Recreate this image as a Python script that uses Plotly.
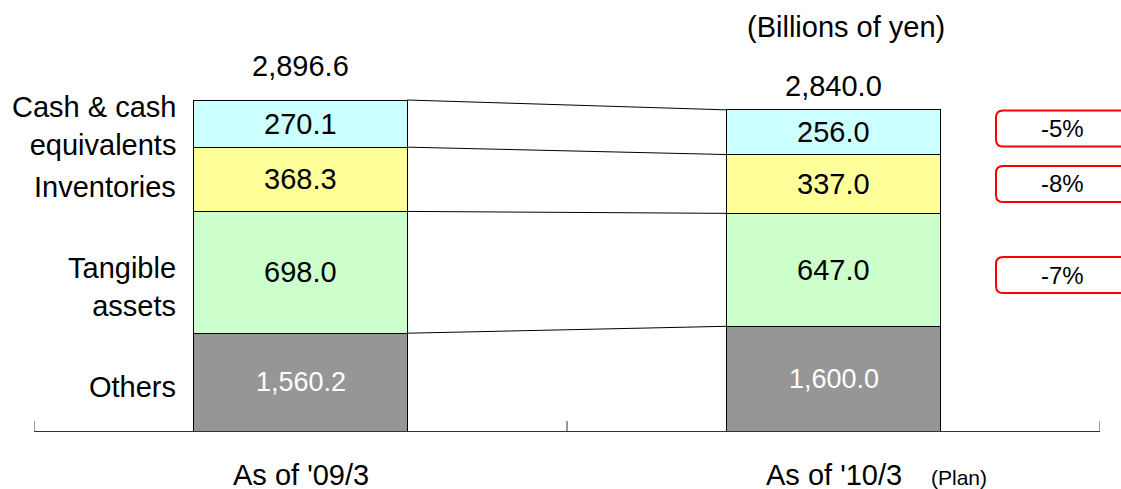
import plotly.graph_objects as go

# ---------------- data ----------------
periods = ["As of '09/3", "As of '10/3"]
period_note = ["", "(Plan)"]
segments = ["Others", "Tangible\nassets", "Inventories", "Cash & cash\nequivalents"]
others = [1560.2, 1600.0]
tangible = [698.0, 647.0]
inventories = [368.3, 337.0]
cash = [270.1, 256.0]
change_labels = ["-5%", "-8%", "-7%"]   # cash, inventories, tangible
unit_label = "(Billions of yen)"

# ---------------- layout constants ----------------
W, H = 1121, 489
ML, MR, MT, MB = 34, 21, 20, 58
PW, PH = W - ML - MR, H - MT - MB
Y_FLOOR = 1000.0                # axis is cut: starts at 1,000
PX_PER_UNIT = 0.17452
Y_TOP = Y_FLOOR + PH / PX_PER_UNIT
BAR_W = 0.40
FONT = "Liberation Sans, Arial, sans-serif"
FS = 29
colors = ["#969696", "#CCFFCC", "#FFFF99", "#CCFFFF"]
text_colors = ["#FFFFFF", "#000000", "#000000", "#000000"]
TICK_LEN = 10


def xp(px):
    return (px - ML) / PW


def yp(py):
    return (H - MB - py) / PH


series = [others, tangible, inventories, cash]
xs = list(range(len(periods)))

fig = go.Figure()
for name, vals, col in zip(segments, series, colors):
    fig.add_trace(go.Bar(
        x=xs, y=vals, width=BAR_W, name=name.replace("\n", " "),
        marker=dict(color=col, line=dict(color="#000000", width=1)),
        hoverinfo="skip",
    ))

# cumulative boundaries
cum = []
run = [0.0] * len(periods)
for vals in series:
    run = [r + v for r, v in zip(run, vals)]
    cum.append(run[:])

# connector lines between bar 1 right edge and bar 2 left edge
for level in cum:
    fig.add_trace(go.Scatter(
        x=[xs[0] + BAR_W / 2, xs[1] - BAR_W / 2], y=[level[0], level[1]],
        mode="lines", line=dict(color="#000000", width=1),
        hoverinfo="skip", showlegend=False,
    ))

annotations = []

# value labels centred in the visible part of each segment
for i, vals in enumerate(series):
    for j, x in enumerate(xs):
        lo = Y_FLOOR if i == 0 else cum[i - 1][j]
        mid = (lo + cum[i][j]) / 2
        annotations.append(dict(
            x=x, y=mid, xref="x", yref="y", yanchor="middle",
            text=f"{vals[j]:,.1f}", showarrow=False,
            font=dict(size=FS if i else 27, color=text_colors[i], family=FONT)))

# segment labels left of first bar
label_yshift = [-5, -15, -8, -2]
for i, name in enumerate(segments):
    lo = Y_FLOOR if i == 0 else cum[i - 1][0]
    mid = (lo + cum[i][0]) / 2
    annotations.append(dict(
        x=xs[0] - BAR_W / 2, y=mid, xref="x", yref="y", xanchor="right",
        yanchor="middle", xshift=-16, yshift=label_yshift[i], align="right",
        text=name.replace("\n", "<br>"), showarrow=False,
        font=dict(size=FS, color="#000000", family=FONT)))

# totals above bars
total_yshift = [34.5, 24]
for i, x in enumerate(xs):
    annotations.append(dict(
        x=x, y=cum[-1][i], xref="x", yref="y", yanchor="middle",
        yshift=total_yshift[i], text=f"{cum[-1][i]:,.1f}", showarrow=False,
        font=dict(size=FS, color="#000000", family=FONT)))

# category labels below the axis
for i, x in enumerate(xs):
    annotations.append(dict(
        x=x, y=0, xref="x", yref="paper", yanchor="middle", yshift=-44,
        text=periods[i], showarrow=False,
        font=dict(size=FS, color="#000000", family=FONT)))
    if period_note[i]:
        annotations.append(dict(
            x=x, y=0, xref="x", yref="paper", yanchor="middle", yshift=-46,
            xshift=125, text=period_note[i], showarrow=False,
            font=dict(size=21, color="#000000", family=FONT)))

annotations.append(dict(
    x=xp(846), y=yp(27), xref="paper", yref="paper", xanchor="center",
    yanchor="middle", text=unit_label, showarrow=False,
    font=dict(size=FS, color="#000000", family=FONT)))

shapes = []
# category boundary ticks on the axis
for tv in [-0.5, 0.5, 1.5]:
    shapes.append(dict(type="line", xref="x", yref="paper", x0=tv, x1=tv,
                       y0=0, y1=TICK_LEN / PH,
                       line=dict(color="#333333", width=1)))

# change boxes on the right
box_centers_px = [128.5, 184, 275]
box_half = 18
bx0, bx1, rad = 996, 1150, 7
for lab, cy in zip(change_labels, box_centers_px):
    y0, y1 = cy - box_half, cy + box_half
    path = (f"M {xp(bx0 + rad)} {yp(y0)} L {xp(bx1)} {yp(y0)} "
            f"L {xp(bx1)} {yp(y1)} L {xp(bx0 + rad)} {yp(y1)} "
            f"Q {xp(bx0)} {yp(y1)} {xp(bx0)} {yp(y1 - rad)} "
            f"L {xp(bx0)} {yp(y0 + rad)} "
            f"Q {xp(bx0)} {yp(y0)} {xp(bx0 + rad)} {yp(y0)} Z")
    shapes.append(dict(type="path", path=path, xref="paper", yref="paper",
                       line=dict(color="#FF0000", width=2), fillcolor="rgba(0,0,0,0)"))
    annotations.append(dict(
        x=xp(1062), y=yp(cy), xref="paper", yref="paper", xanchor="center",
        yanchor="middle", text=lab, showarrow=False,
        font=dict(size=24, color="#000000", family=FONT)))

fig.update_layout(
    width=W, height=H, barmode="stack", showlegend=False,
    margin=dict(l=ML, r=MR, t=MT, b=MB, pad=0),
    paper_bgcolor="#FFFFFF", plot_bgcolor="#FFFFFF",
    annotations=annotations, shapes=shapes,
    font=dict(family=FONT, color="#000000"),
    xaxis=dict(range=[-0.5, 1.5], showgrid=False, zeroline=False,
               showline=True, linecolor="#333333", linewidth=1,
               ticks="", showticklabels=False, fixedrange=True),
    yaxis=dict(range=[Y_FLOOR, Y_TOP], visible=False, fixedrange=True),
)

fig.write_html("out.html", config={"displayModeBar": False},
               post_script="document.body.style.margin='0';")
